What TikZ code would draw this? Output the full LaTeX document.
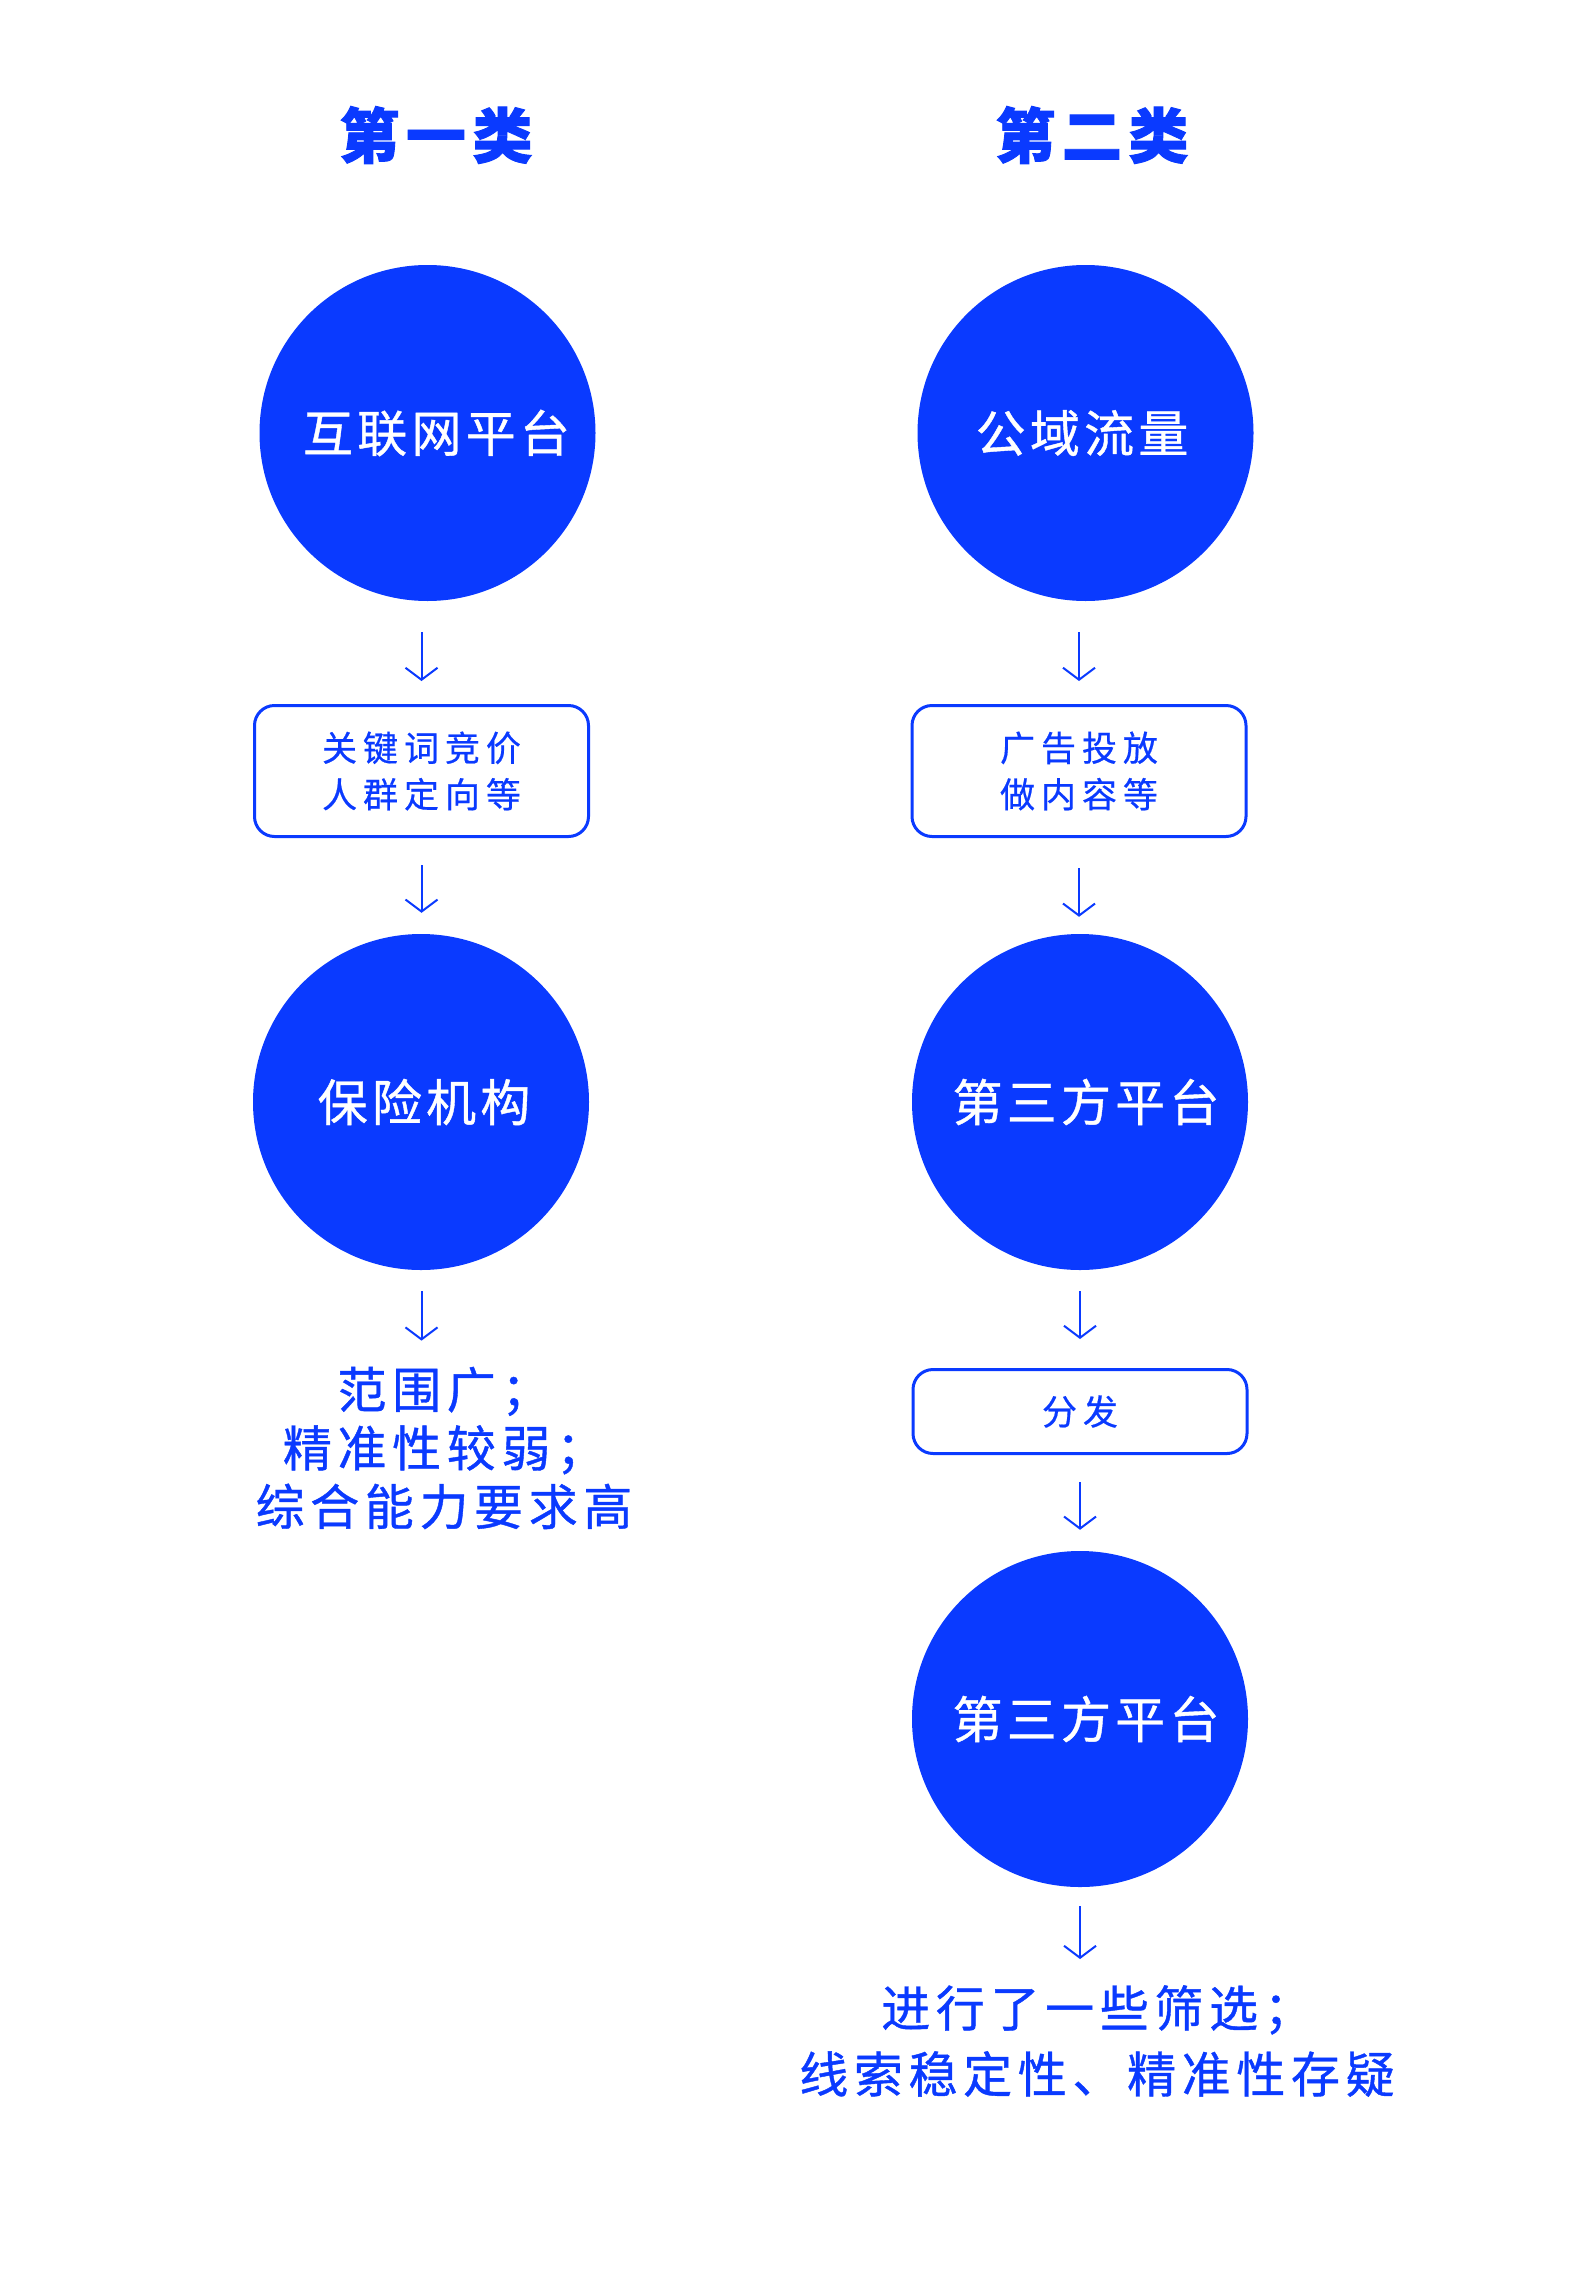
\documentclass[tikz,border=0pt]{standalone}
\usepackage{fontspec}
\usetikzlibrary{arrows.meta}
\newfontfamily\cjktitle[LetterSpace=11,FakeBold=1.5]{Noto Sans CJK SC}
\newfontfamily\cjkcirc[LetterSpace=8.5,FakeBold=0.8]{Noto Sans CJK SC}
\newfontfamily\cjkbox[LetterSpace=17,FakeBold=0.5]{Noto Sans CJK SC}
\newfontfamily\cjknote[LetterSpace=11.5,FakeBold=0.8]{Noto Sans CJK SC}
\definecolor{brand}{RGB}{10,58,255}
\tikzset{
  titletext/.style={text=brand, inner sep=0pt, font=\cjktitle\bfseries\fontsize{60}{70}\selectfont},
  circ/.style={circle, fill=brand, minimum size=336pt, inner sep=0pt},
  circtext/.style={text=white, inner sep=0pt, font=\cjkcirc\fontsize{50}{60}\selectfont},
  stepbox/.style={draw=brand, line width=3pt, rounded corners=20pt, minimum width=334pt,
    inner sep=0pt, text=brand, align=center, font=\cjkbox\fontsize{35}{46.5}\selectfont},
  notetext/.style={text=brand, inner sep=0pt, align=center},
  flow/.style={draw=brand, line width=2pt, -{Straight Barb[length=12pt,width=32pt,line width=2pt]}}
}
\begin{document}
\begin{tikzpicture}[x=1pt,y=-1pt]
\useasboundingbox (0,0) rectangle (1585,2280);
\fill[white] (0,0) rectangle (1585,2280);

% titles
\node[titletext] (t1) at (436,135) {第一类};
\node[titletext] (t2) at (1092,135) {第二类};

% left column
\node[circ] (c1) at (427.5,433) {};
\node[circtext, xshift=9pt] (c1t) at (c1) {互联网平台};
\node[stepbox, minimum height=131pt] (b1) at (421.5,771) {关键词竞价\\人群定向等};
\node[circ] (c2) at (421,1102) {};
\node[circtext, xshift=3pt] (c2t) at (c2) {保险机构};
\node[notetext, font=\cjknote\fontsize{49}{58.5}\selectfont] (n1) at (444,1448) {范围广；\\精准性较弱；\\综合能力要求高};

% right column
\node[circ] (r1) at (1085.5,433) {};
\node[circtext, xshift=-3.5pt] (r1t) at (r1) {公域流量};
\node[stepbox, minimum height=131pt] (rb1) at (1079,771) {广告投放\\做内容等};
\node[circ] (r2) at (1080,1102) {};
\node[circtext, xshift=6pt] (r2t) at (r2) {第三方平台};
\node[stepbox, minimum height=84pt] (rb2) at (1080,1411.5) {分发};
\node[circ] (r3) at (1080,1719) {};
\node[circtext, xshift=6pt] (r3t) at (r3) {第三方平台};
\node[notetext, font=\cjknote\fontsize{49}{66}\selectfont] (n2) at (1097,2041) {进行了一些筛选；\\线索稳定性、精准性存疑};

% connectors left
\draw[flow, shorten <=31pt, shorten >=23pt] (b1.north |- c1.south) -- (b1.north);
\draw[flow, shorten <=27pt, shorten >=21pt] (b1.south) -- (b1.south |- c2.north);
\draw[flow, shorten <=21pt, shorten >=26pt] (b1.south |- c2.south) -- (b1.south |- n1.north);

% connectors right
\draw[flow, shorten <=31pt, shorten >=23pt] (rb1.north |- r1.south) -- (rb1.north);
\draw[flow, shorten <=30pt, shorten >=17pt] (rb1.south) -- (rb1.south |- r2.north);
\draw[flow, shorten <=21pt, shorten >=29pt] (rb2.north |- r2.south) -- (rb2.north);
\draw[flow, shorten <=27pt, shorten >=21pt] (rb2.south) -- (rb2.south |- r3.north);
\draw[flow, shorten <=19pt, shorten >=26pt] (rb2.south |- r3.south) -- (rb2.south |- n2.north);
\end{tikzpicture}
\end{document}
